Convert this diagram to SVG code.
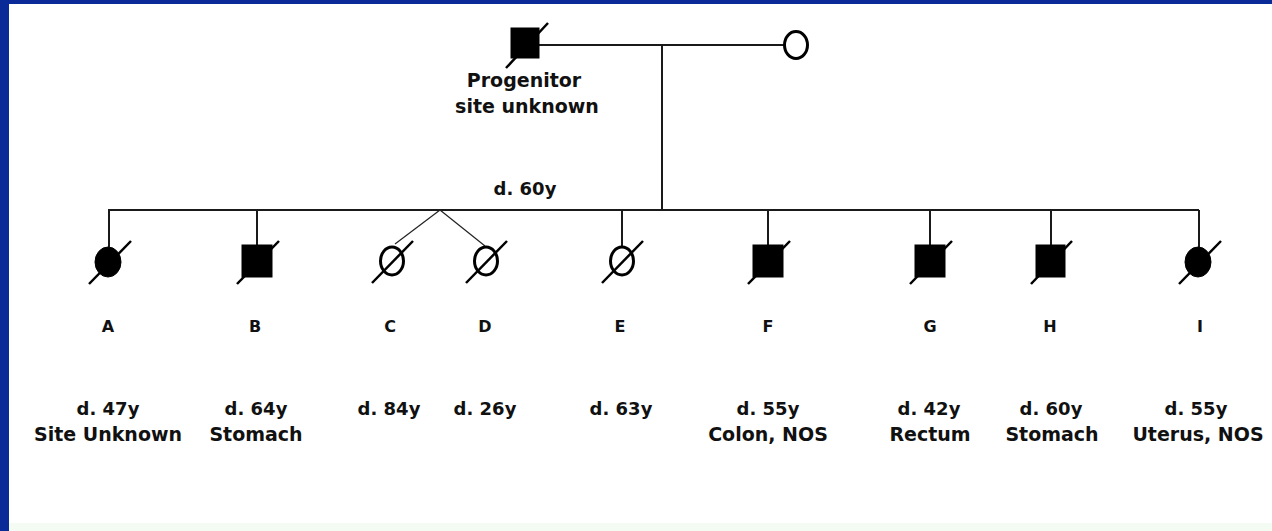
<svg xmlns="http://www.w3.org/2000/svg" width="1272" height="531" viewBox="0 0 1272 531">
  <defs>
    <style>
      .line { stroke: #1a1a1a; stroke-width: 2; fill: none; }
      .twin { stroke: #222; stroke-width: 1.2; fill: none; }
      .filled { fill: #000; stroke: #000; stroke-width: 1; }
      .open { fill: #fff; stroke: #000; stroke-width: 3; }
      .slash { stroke: #000; stroke-width: 2.5; }
      .lbl { font-family: "DejaVu Sans", Verdana, sans-serif; font-weight: bold; font-size: 19px; fill: #111; text-anchor: middle; }
      .age { font-family: "DejaVu Sans", Verdana, sans-serif; font-weight: bold; font-size: 18px; fill: #111; text-anchor: middle; }
      .id { font-family: "DejaVu Sans", Verdana, sans-serif; font-weight: bold; font-size: 16px; fill: #111; text-anchor: middle; }
    </style>
  </defs>

  <!-- page frame -->
  <rect x="0" y="0" width="1272" height="531" fill="#ffffff"/>
  <rect x="0" y="523" width="1272" height="8" fill="#f4fbf2"/>
  <rect x="0" y="0" width="1272" height="4" fill="#0a2a98"/>
  <rect x="0" y="0" width="9" height="531" fill="#0a2a98"/>

  <!-- connectors -->
  <g id="connectors">
    <line class="line" x1="539" y1="45" x2="784" y2="45"/>
    <line class="line" x1="662" y1="45" x2="662" y2="210"/>
    <line class="line" x1="108" y1="210" x2="1199" y2="210"/>
    <line class="line" x1="109" y1="210" x2="109" y2="247"/>
    <line class="line" x1="257" y1="210" x2="257" y2="245"/>
    <line class="twin" x1="440" y1="210" x2="395" y2="244"/>
    <line class="twin" x1="440" y1="210" x2="485" y2="246"/>
    <line class="line" x1="622" y1="210" x2="622" y2="246"/>
    <line class="line" x1="768" y1="210" x2="768" y2="245"/>
    <line class="line" x1="930" y1="210" x2="930" y2="245"/>
    <line class="line" x1="1051" y1="210" x2="1051" y2="245"/>
    <line class="line" x1="1199" y1="210" x2="1199" y2="247"/>
  </g>

  <!-- first generation -->
  <g id="progenitor">
    <rect class="filled" x="511" y="28" width="28" height="30"/>
    <line class="slash" x1="506" y1="68" x2="548" y2="23"/>
    <text class="lbl" x="524" y="87">Progenitor</text>
    <text class="lbl" x="527" y="113">site unknown</text>
  </g>
  <g id="spouse">
    <ellipse class="open" cx="796" cy="45" rx="11.5" ry="13.5"/>
  </g>
  <g id="parent-death">
    <text class="age" x="525" y="195">d. 60y</text>
  </g>

  <!-- second generation -->
  <g id="A">
    <ellipse class="filled" cx="108" cy="262" rx="13" ry="15"/>
    <line class="slash" x1="89" y1="284" x2="131" y2="241"/>
    <text class="id" x="108" y="332">A</text>
    <text class="age" x="108" y="415">d. 47y</text>
    <text class="lbl" x="108" y="441">Site Unknown</text>
  </g>
  <g id="B">
    <rect class="filled" x="242" y="245" width="30" height="32"/>
    <line class="slash" x1="237" y1="284" x2="279" y2="241"/>
    <text class="id" x="255" y="332">B</text>
    <text class="age" x="256" y="415">d. 64y</text>
    <text class="lbl" x="256" y="441">Stomach</text>
  </g>
  <g id="C">
    <ellipse class="open" cx="392" cy="261" rx="11.5" ry="14"/>
    <line class="slash" x1="372" y1="283" x2="413" y2="241"/>
    <text class="id" x="390" y="332">C</text>
    <text class="age" x="389" y="415">d. 84y</text>
  </g>
  <g id="D">
    <ellipse class="open" cx="486" cy="261" rx="11.5" ry="14"/>
    <line class="slash" x1="466" y1="283" x2="507" y2="241"/>
    <text class="id" x="485" y="332">D</text>
    <text class="age" x="485" y="415">d. 26y</text>
  </g>
  <g id="E">
    <ellipse class="open" cx="622" cy="261" rx="11.5" ry="14"/>
    <line class="slash" x1="602" y1="283" x2="643" y2="241"/>
    <text class="id" x="620" y="332">E</text>
    <text class="age" x="621" y="415">d. 63y</text>
  </g>
  <g id="F">
    <rect class="filled" x="753" y="245" width="30" height="32"/>
    <line class="slash" x1="748" y1="284" x2="790" y2="241"/>
    <text class="id" x="768" y="332">F</text>
    <text class="age" x="768" y="415">d. 55y</text>
    <text class="lbl" x="768" y="441">Colon, NOS</text>
  </g>
  <g id="G">
    <rect class="filled" x="915" y="245" width="30" height="32"/>
    <line class="slash" x1="910" y1="284" x2="952" y2="241"/>
    <text class="id" x="930" y="332">G</text>
    <text class="age" x="929" y="415">d. 42y</text>
    <text class="lbl" x="930" y="441">Rectum</text>
  </g>
  <g id="H">
    <rect class="filled" x="1036" y="245" width="29" height="32"/>
    <line class="slash" x1="1031" y1="284" x2="1072" y2="241"/>
    <text class="id" x="1050" y="332">H</text>
    <text class="age" x="1051" y="415">d. 60y</text>
    <text class="lbl" x="1052" y="441">Stomach</text>
  </g>
  <g id="I">
    <ellipse class="filled" cx="1198" cy="262" rx="13" ry="15"/>
    <line class="slash" x1="1179" y1="284" x2="1221" y2="241"/>
    <text class="id" x="1200" y="332">I</text>
    <text class="age" x="1196" y="415">d. 55y</text>
    <text class="lbl" x="1198" y="441">Uterus, NOS</text>
  </g>
</svg>
